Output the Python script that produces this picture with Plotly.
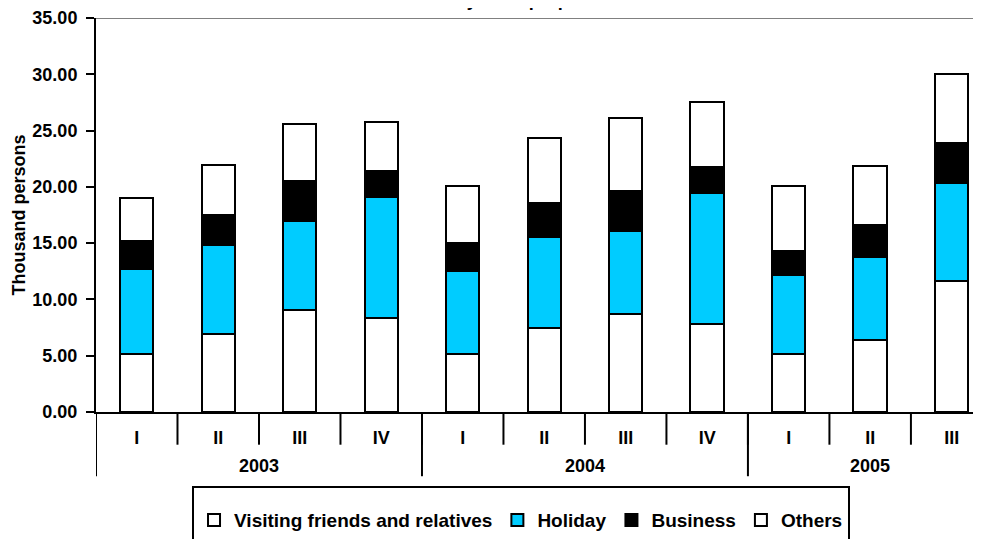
import plotly.graph_objects as go

# ---- data ----
years = ["2003", "2004", "2005"]
quarters = ["I", "II", "III", "IV", "I", "II", "III", "IV", "I", "II", "III"]
year_of_bar = ["2003"] * 4 + ["2004"] * 4 + ["2005"] * 3
visiting = [5.18, 6.96, 9.06, 8.38, 5.15, 7.46, 8.71, 7.82, 5.15, 6.40, 11.60]
holiday = [7.52, 7.90, 7.94, 10.72, 7.40, 8.12, 7.40, 11.67, 7.05, 7.40, 8.77]
business = [2.49, 2.64, 3.52, 2.30, 2.43, 2.96, 3.52, 2.25, 2.10, 2.81, 3.50]
others = [3.85, 4.40, 5.08, 4.36, 5.12, 5.83, 6.52, 5.80, 5.78, 5.24, 6.16]
series_names = ["Visiting friends and relatives", "Holiday", "Business", "Others"]
y_ticks = [0, 5, 10, 15, 20, 25, 30, 35]

x = list(range(len(quarters)))

FONT = "Liberation Sans, Arial, sans-serif"
fills = ["#FFFFFF", "#00CCFF", "#000000", "#FFFFFF"]

fig = go.Figure()
for name, vals, col in zip(series_names, [visiting, holiday, business, others], fills):
    fig.add_trace(go.Bar(
        x=x, y=vals, name=name, width=0.41,
        marker=dict(color=col, line=dict(color="#000000", width=2)),
    ))

shapes = []
# quarter separators
for i in range(len(quarters) + 1):
    shapes.append(dict(type="line", xref="x", yref="paper",
                       x0=i - 0.5, x1=i - 0.5, y0=0, y1=-0.083,
                       line=dict(color="black", width=2)))
# year separators
start = 0
for yr in years:
    shapes.append(dict(type="line", xref="x", yref="paper",
                       x0=start - 0.5, x1=start - 0.5, y0=0, y1=-0.163,
                       line=dict(color="black", width=2)))
    start += year_of_bar.count(yr)
# top border (gray)
shapes.append(dict(type="line", xref="paper", yref="y", x0=0, x1=1, y0=35, y1=35,
                   line=dict(color="#808080", width=2)))

annotations = []
start = 0
for yr in years:
    n = year_of_bar.count(yr)
    annotations.append(dict(x=start + (n - 1) / 2, y=-0.137, xref="x", yref="paper",
                            text=yr, showarrow=False, xanchor="center", yanchor="middle",
                            font=dict(family=FONT, size=18, color="black", weight="bold")))
    start += n
# clipped title
annotations.append(dict(x=0.45, y=1, xref="paper", yref="paper", yanchor="bottom",
                        yshift=6, text="Visitor arrivals by main purpose of visit",
                        showarrow=False,
                        font=dict(family=FONT, size=18, color="black", weight="bold")))

fig.update_layout(
    width=973, height=531,
    margin=dict(l=88, r=0, t=10, b=127, autoexpand=False),
    paper_bgcolor="white", plot_bgcolor="white",
    barmode="stack", bargap=0.59,
    font=dict(family=FONT, size=18, color="black", weight="bold"),
    showlegend=True,
    legend=dict(orientation="h", x=0.1085, xanchor="left", y=-0.188, yanchor="top",
                bordercolor="black", borderwidth=2, bgcolor="white",
                font=dict(family=FONT, size=19, color="black", weight="bold"),
                title=dict(text=" ", side="top", font=dict(size=10)),
                traceorder="normal"),
    shapes=shapes,
    annotations=annotations,
)
fig.update_xaxes(range=[-0.5, 10.36], tickvals=x, ticktext=quarters,
                 ticks="outside", ticklen=8, tickcolor="rgba(0,0,0,0)",
                 showline=True, linecolor="black", linewidth=2,
                 showgrid=False, zeroline=False, automargin=False,
                 tickfont=dict(family=FONT, size=18, color="black", weight="bold"))
fig.update_yaxes(range=[0, 35], tickvals=y_ticks, tickformat=".2f",
                 ticks="outside", ticklen=8, tickwidth=2, tickcolor="black",
                 ticklabelstandoff=5, automargin=False,
                 showline=True, linecolor="black", linewidth=2,
                 showgrid=False, zeroline=False,
                 title=dict(text="Thousand persons", standoff=2,
                            font=dict(family=FONT, size=18, color="black", weight="bold")),
                 tickfont=dict(family=FONT, size=18, color="black", weight="bold"))

fig.write_html("out.html")
